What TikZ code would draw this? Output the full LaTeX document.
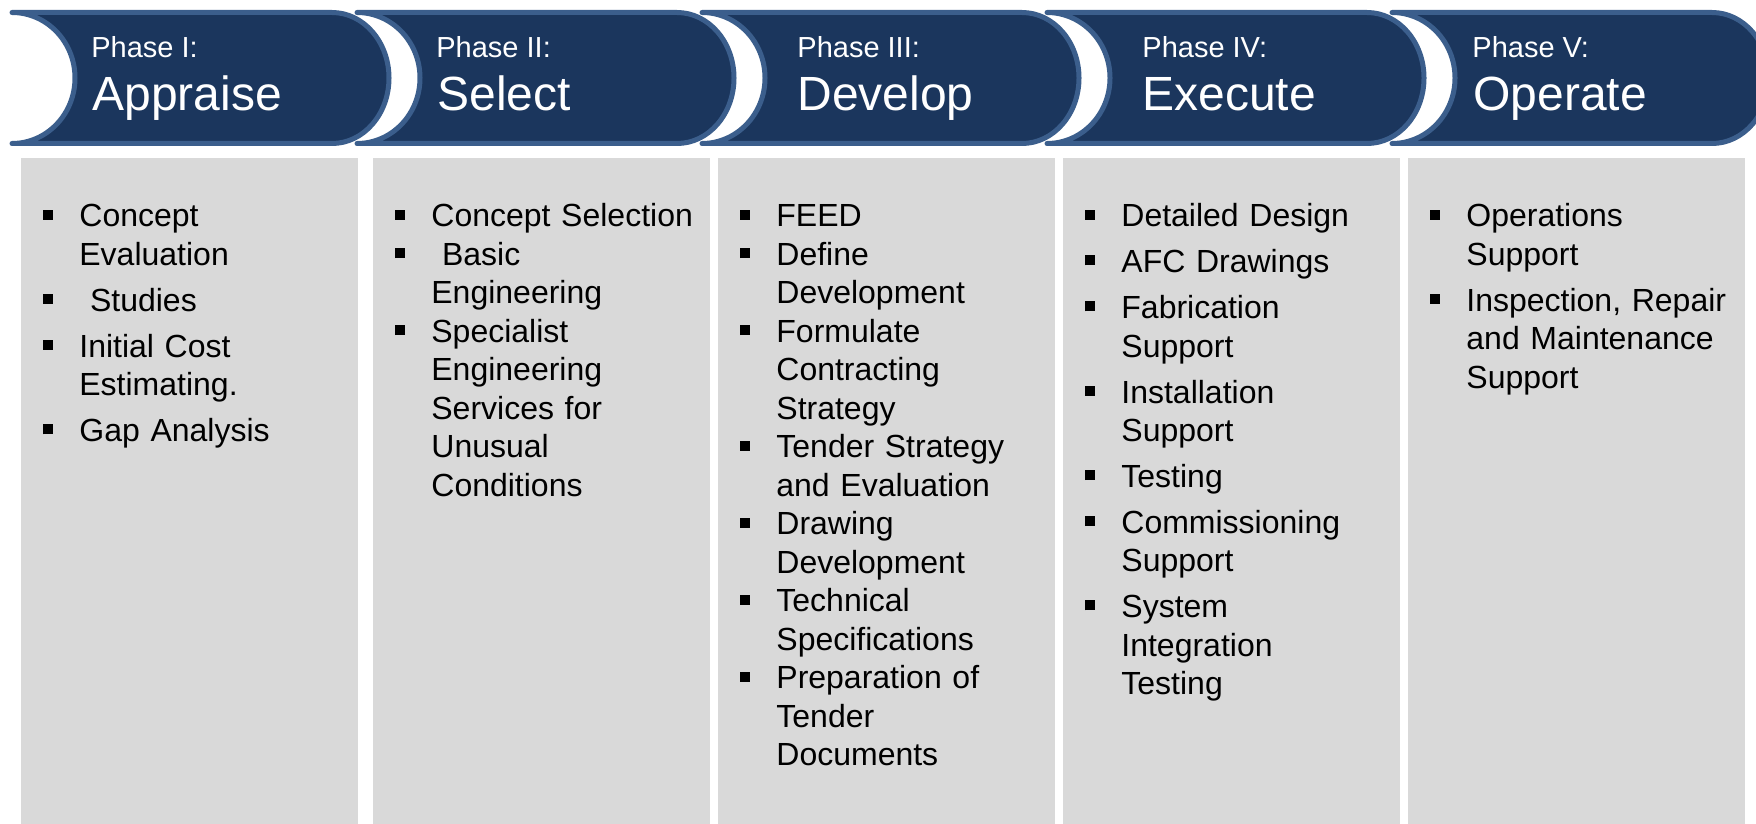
\documentclass[tikz,border=0pt]{standalone}
\usepackage{fontspec}
\setmainfont{Liberation Sans}
\usepackage{tikz}
\usetikzlibrary{positioning}
\definecolor{phasenavy}{RGB}{27,54,93}
\definecolor{phaseedge}{RGB}{59,94,140}
\definecolor{listgray}{RGB}{217,217,217}
\tikzset{
  phasebar/.style = {fill=phasenavy, draw=phaseedge, line width=2.5pt,
    line join=round, line cap=round},% bandeau de phase
  phasenum/.style = {anchor=base west, inner sep=0pt, text=white,
    font=\fontsize{14.5}{17}\selectfont},
  phasename/.style = {anchor=base west, inner sep=0pt, text=white,
    font=\fontsize{24}{28}\selectfont},
  listbox/.style = {fill=listgray, draw=none},% colonne grise
  tasklist/.style = {anchor=north west, inner sep=0pt, text width=170pt,
    align=left, font=\fontsize{16}{19.25}\selectfont}
}
% one bullet item, hanging indent for the wrapped lines
\newcommand{\blt}[1]{\hangindent=18pt\hangafter=1%
  \makebox[18pt][l]{\rule[3.65pt]{5pt}{5pt}}\strut#1\par}

\begin{document}
\begin{tikzpicture}[x=0.5pt,y=-0.5pt]
\path[use as bounding box, fill=white] (0,0) rectangle (1756,824);
\clip (0,0) rectangle (1756,824);

% phase bands
\foreach \x in {12,357,702,1047,1392}
  \draw[phasebar] (\x,12.5) -- (\x+320,12.5)
    .. controls +(31.5,0) and +(0,-36.2) .. (\x+377,78)
    .. controls +(0,36.2) and +(31.5,0) .. (\x+320,143.5)
    -- (\x,143.5)
    .. controls +(34.8,0) and +(0,36.2) .. (\x+63,78)
    .. controls +(0,-36.2) and +(34.8,0) .. (\x,12.5) -- cycle;

\foreach \x/\y/\n/\r/\t in {91/92/1/I/Appraise, 436/437/2/II/Select,
    797/797/3/III/Develop, 1142/1142/4/IV/Execute, 1472/1473/5/V/Operate} {
  \node[phasenum] (ph\n) at (\x,58) {Phase \r:};
  \node[phasename] (pn\n) at (\y,111) {\t};
}

% grey columns
\foreach \x in {21,373,718,1063,1408}
  \fill[listbox] (\x,158) rectangle ++(337,666);

\node[tasklist] (list1) at (43,199.5) {\setlength{\parskip}{3.7pt}%
  \blt{Concept\newline Evaluation}
  \blt{\ Studies}
  \blt{Initial Cost\newline Estimating.}
  \blt{Gap Analysis}};
\node[tasklist] (list2) at (395,199.5) {%
  \blt{Concept Selection}
  \blt{\ Basic\newline Engineering}
  \blt{Specialist\newline Engineering\newline Services for\newline Unusual\newline Conditions}};
\node[tasklist] (list3) at (740,199.5) {%
  \blt{FEED}
  \blt{Define\newline Development}
  \blt{Formulate\newline Contracting\newline Strategy}
  \blt{Tender Strategy\newline and Evaluation}
  \blt{Drawing\newline Development}
  \blt{Technical\newline Specifications}
  \blt{Preparation of\newline Tender\newline Documents}};
\node[tasklist] (list4) at (1085,199.5) {\setlength{\parskip}{3.7pt}%
  \blt{Detailed Design}
  \blt{AFC Drawings}
  \blt{Fabrication\newline Support}
  \blt{Installation\newline Support}
  \blt{Testing}
  \blt{Commissioning\newline Support}
  \blt{System\newline Integration\newline Testing}};
\node[tasklist] (list5) at (1430,199.5) {\setlength{\parskip}{3.7pt}%
  \blt{Operations\newline Support}
  \blt{Inspection, Repair\newline and Maintenance\newline Support}};
\end{tikzpicture}
\end{document}
